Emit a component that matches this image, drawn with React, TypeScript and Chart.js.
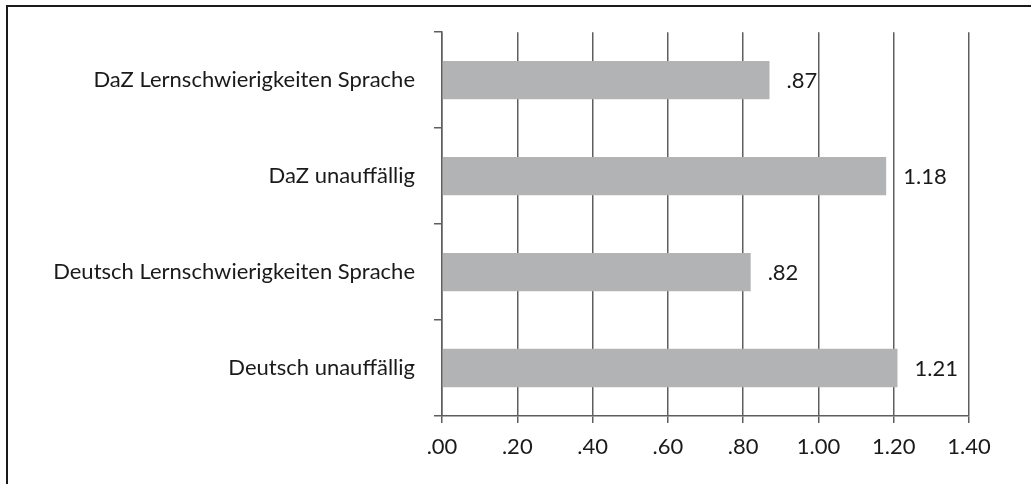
import React, { useEffect, useRef } from "react";
import { Chart, registerables } from "chart.js";

Chart.register(...registerables);

const categories = [
  "DaZ Lernschwierigkeiten Sprache",
  "DaZ unauffällig",
  "Deutsch Lernschwierigkeiten Sprache",
  "Deutsch unauffällig",
];
const values = [0.87, 1.18, 0.82, 1.21];
const valueLabels = [".87", "1.18", ".82", "1.21"];
const xTickLabels = [".00", ".20", ".40", ".60", ".80", "1.00", "1.20", "1.40"];

const FONT = "Lato";
const FONT_SIZE = 22;
const TEXT_COLOR = "#1a1a1a";
const GRID_COLOR = "#5e5e5e";

const valueLabelPlugin = {
  id: "valueLabels",
  afterDatasetsDraw(chart: any) {
    const ctx = chart.ctx;
    const meta = chart.getDatasetMeta(0);
    ctx.save();
    ctx.font = `${FONT_SIZE}px ${FONT}`;
    ctx.fillStyle = TEXT_COLOR;
    ctx.textAlign = "left";
    ctx.textBaseline = "middle";
    meta.data.forEach((bar: any, i: number) => {
      ctx.fillText(valueLabels[i], bar.x + 17, bar.y + 1);
    });
    ctx.restore();
  },
};

export default function App() {
  const ref = useRef<HTMLCanvasElement | null>(null);
  useEffect(() => {
    if (!ref.current) return;
    const chart = new Chart(ref.current, {
      type: "bar",
      data: {
        labels: categories,
        datasets: [
          {
            data: values,
            backgroundColor: "#b2b3b5",
            borderWidth: 0,
            categoryPercentage: 1,
            barPercentage: 0.4,
          },
        ],
      },
      options: {
        indexAxis: "y",
        animation: false,
        responsive: false,
        devicePixelRatio: 1,
        layout: { padding: { top: 32, right: 62, left: 0, bottom: 0 } },
        plugins: { legend: { display: false }, tooltip: { enabled: false } },
        scales: {
          x: {
            type: "linear",
            min: 0,
            max: 1.4,
            afterFit: (s: any) => {
              s.height = 68;
            },
            ticks: {
              stepSize: 0.2,
              color: TEXT_COLOR,
              font: { family: FONT, size: FONT_SIZE },
              padding: 11,
              maxRotation: 0,
              callback: (_v: any, i: number) => xTickLabels[i],
            },
            grid: {
              color: GRID_COLOR,
              lineWidth: 1.5,
              tickLength: 7,
              drawTicks: true,
            },
            border: { display: true, color: GRID_COLOR, width: 1.5 },
          },
          y: {
            type: "category",
            afterFit: (s: any) => {
              s.width = 442;
            },
            ticks: {
              color: TEXT_COLOR,
              font: { family: FONT, size: FONT_SIZE },
              padding: 19,
            },
            grid: {
              offset: true,
              drawOnChartArea: false,
              drawTicks: true,
              tickLength: 8,
              color: GRID_COLOR,
              lineWidth: 1.5,
            },
            border: { display: true, color: GRID_COLOR, width: 1.5 },
          },
        },
      },
      plugins: [valueLabelPlugin],
    });
    return () => chart.destroy();
  }, []);

  return (
    <div style={{ position: "fixed", left: 0, top: 0, width: 1031, height: 484, background: "#fff", overflow: "hidden" }}>
      <div
        style={{
          position: "absolute",
          left: 6,
          top: 5,
          right: -10,
          bottom: -10,
          borderTop: "2px solid #1a1a1a",
          borderLeft: "2px solid #1a1a1a",
        }}
      />
      <canvas ref={ref} width={1031} height={484} style={{ position: "absolute", left: 0, top: 0, width: 1031, height: 484 }} />
    </div>
  );
}
